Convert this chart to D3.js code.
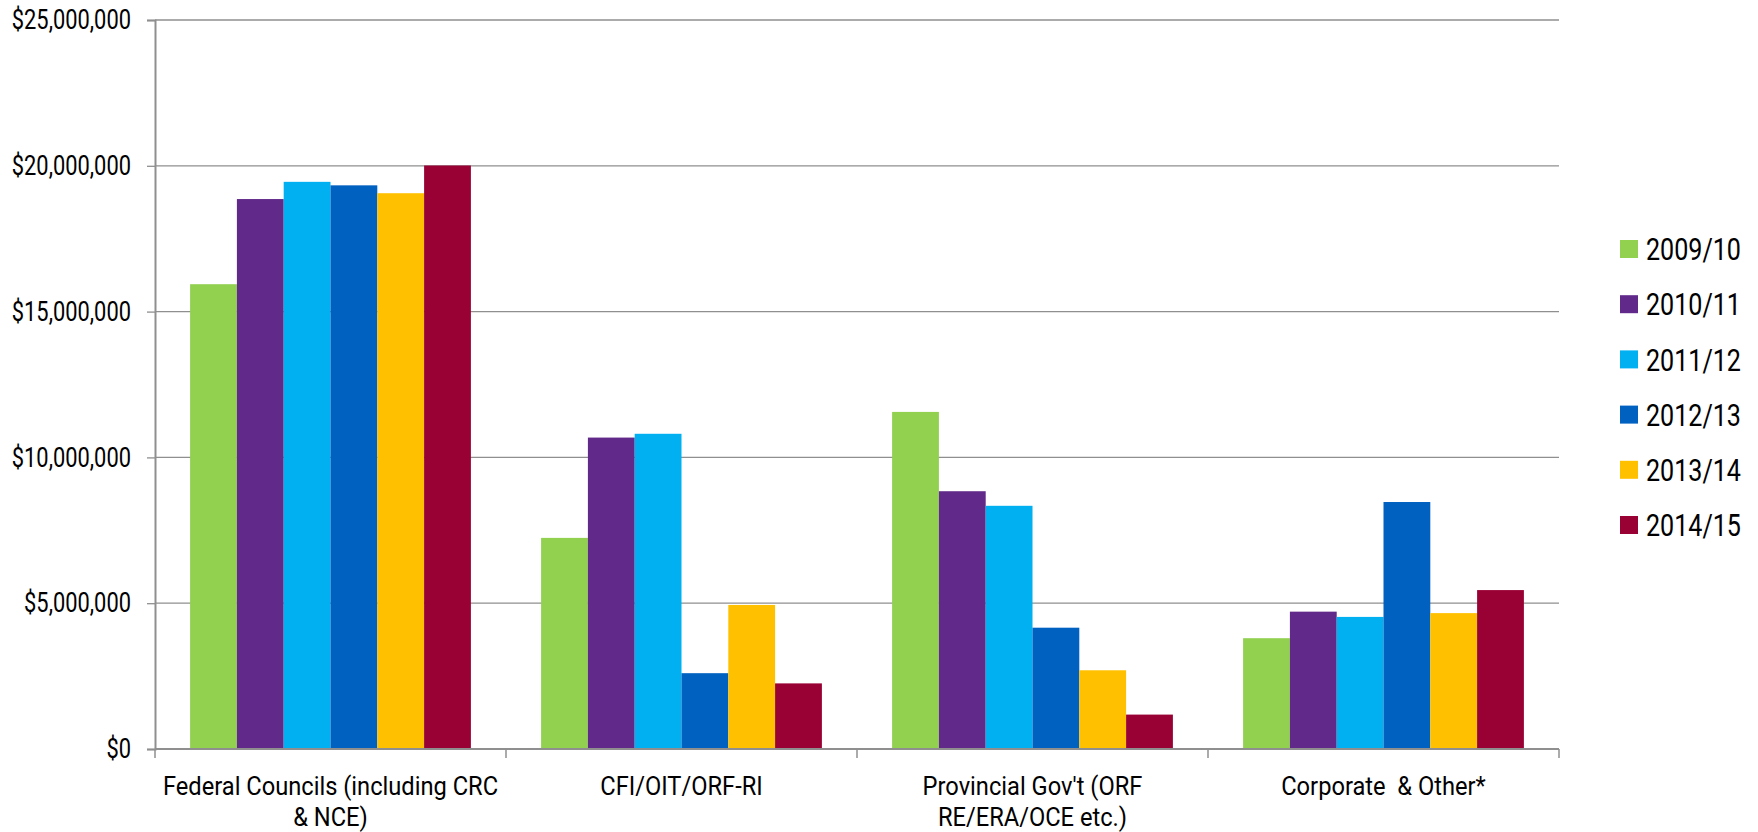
<!DOCTYPE html>
<meta charset="utf-8">
<script src="https://d3js.org/d3.v7.js"></script>
<style>
  body { margin: 0; background: #fff; }
  text { font-family: Roboto, "Noto Sans", sans-serif; fill: #000; }
</style>
<div id="my_dataviz"></div>
<script>

// categories and their (wrapped) tick labels
const categories = ["Federal", "CFI", "Provincial", "Corporate"];
const categoryLabels = [
  ["Federal Councils (including CRC", "& NCE)"],
  ["CFI/OIT/ORF-RI"],
  ["Provincial Gov't (ORF", "RE/ERA/OCE etc.)"],
  ["Corporate  & Other*"]
];

// fiscal years (series)
const years = ["2009/10", "2010/11", "2011/12", "2012/13", "2013/14", "2014/15"];
const colors = ["#92D050", "#612A8A", "#00B0F0", "#0061C0", "#FFC000", "#990033"];

// values per year, in the order of categories
const v2009 = [15940000, 7240000, 11560000, 3800000];
const v2010 = [18860000, 10680000, 8840000, 4710000];
const v2011 = [19450000, 10810000, 8340000, 4530000];
const v2012 = [19330000, 2600000, 4160000, 8470000];
const v2013 = [19060000, 4940000, 2700000, 4660000];
const v2014 = [20010000, 2250000, 1180000, 5450000];
const series = [v2009, v2010, v2011, v2012, v2013, v2014];

const yTicks = [0, 5000000, 10000000, 15000000, 20000000, 25000000];

// dimensions
const W = 1758, H = 832;
const margin = {top: 20, right: 199, bottom: 83, left: 155},
  width = W - margin.left - margin.right,
  height = H - margin.top - margin.bottom;

// no condensed font here, so squeeze Roboto horizontally
function condense(sel, k) {
  sel.each(function() {
    const len = this.getComputedTextLength();
    d3.select(this)
      .attr("textLength", len * k)
      .attr("lengthAdjust", "spacingAndGlyphs");
  });
}

const svg = d3.select("#my_dataviz")
  .append("svg")
    .attr("width", W)
    .attr("height", H)
  .append("g")
    .attr("transform", `translate(${margin.left}, ${margin.top})`);

const x0 = d3.scaleBand()
  .domain(categories)
  .range([0, width])
  .paddingInner(0)
  .paddingOuter(0);

const x1 = d3.scaleBand()
  .domain(years)
  .range([0, x0.bandwidth()])
  .paddingInner(0)
  .paddingOuter(0.75);

const y = d3.scaleLinear()
  .domain([0, 25000000])
  .range([height, 0]);

// gridlines
svg.append("g")
  .selectAll("line")
  .data(yTicks.filter(d => d > 0))
  .join("line")
    .attr("x1", 0)
    .attr("x2", width)
    .attr("y1", d => y(d))
    .attr("y2", d => y(d))
    .style("stroke", "#8f8f8f")
    .style("stroke-width", 1.3);

// bars
const groups = svg.append("g")
  .selectAll("g")
  .data(series)
  .join("g")
    .style("fill", (d, i) => colors[i]);

groups.selectAll("rect")
  .data((d, i) => d.map((v, j) => ({cat: categories[j], year: years[i], value: v})))
  .join("rect")
    .attr("x", d => x0(d.cat) + x1(d.year))
    .attr("y", d => y(d.value))
    .attr("width", x1.bandwidth())
    .attr("height", d => height - y(d.value));

// y axis
const yAxis = svg.append("g")
  .call(d3.axisLeft(y)
    .tickValues(yTicks)
    .tickSize(8)
    .tickPadding(16)
    .tickFormat(d => "$" + d3.format(",")(d)));
yAxis.select(".domain").style("stroke", "#8f8f8f").style("stroke-width", 2);
yAxis.selectAll(".tick line").style("stroke", "#8f8f8f").style("stroke-width", 1.3);
yAxis.selectAll(".tick text")
  .style("font-family", "Roboto, sans-serif")
  .style("font-size", "27px")
  .attr("fill", "#000")
  .call(condense, 0.81);

// x axis baseline and category ticks
const xAxis = svg.append("g").attr("transform", `translate(0, ${height})`);
xAxis.append("line")
  .attr("x1", 0).attr("x2", width)
  .style("stroke", "#8f8f8f")
  .style("stroke-width", 2);
xAxis.selectAll("line.tk")
  .data(categories.map(c => x0(c)).concat([width]))
  .join("line")
    .attr("class", "tk")
    .attr("x1", d => d).attr("x2", d => d)
    .attr("y1", 0).attr("y2", 9)
    .style("stroke", "#8f8f8f")
    .style("stroke-width", 1.5);

const labelLines = [];
categoryLabels.forEach((lines, i) => {
  lines.forEach((t, k) => labelLines.push({cat: categories[i], text: t, line: k}));
});

xAxis.selectAll("text.cat")
  .data(labelLines)
  .join("text")
    .attr("class", "cat")
    .attr("text-anchor", "middle")
    .attr("x", d => x0(d.cat) + x0.bandwidth() / 2)
    .attr("y", d => 46 + d.line * 31)
    .style("font-size", "26px")
    .style("white-space", "pre")
    .text(d => d.text)
    .call(condense, 0.91);

// legend
const legend = svg.append("g")
  .attr("transform", `translate(${1620 - margin.left}, ${249 - margin.top})`);

const item = legend.selectAll("g")
  .data(years)
  .join("g")
    .attr("transform", (d, i) => `translate(0, ${i * 55.2})`);

item.append("rect")
  .attr("x", 0)
  .attr("y", -9)
  .attr("width", 18)
  .attr("height", 18)
  .style("fill", (d, i) => colors[i]);

// squeeze legend labels with a transform
item.append("g")
  .attr("transform", "translate(26, 0) scale(0.81, 1)")
  .append("text")
    .attr("x", 0)
    .attr("y", 0)
    .attr("dy", "0.36em")
    .style("font-size", "31px")
    .text(d => d);

</script>
